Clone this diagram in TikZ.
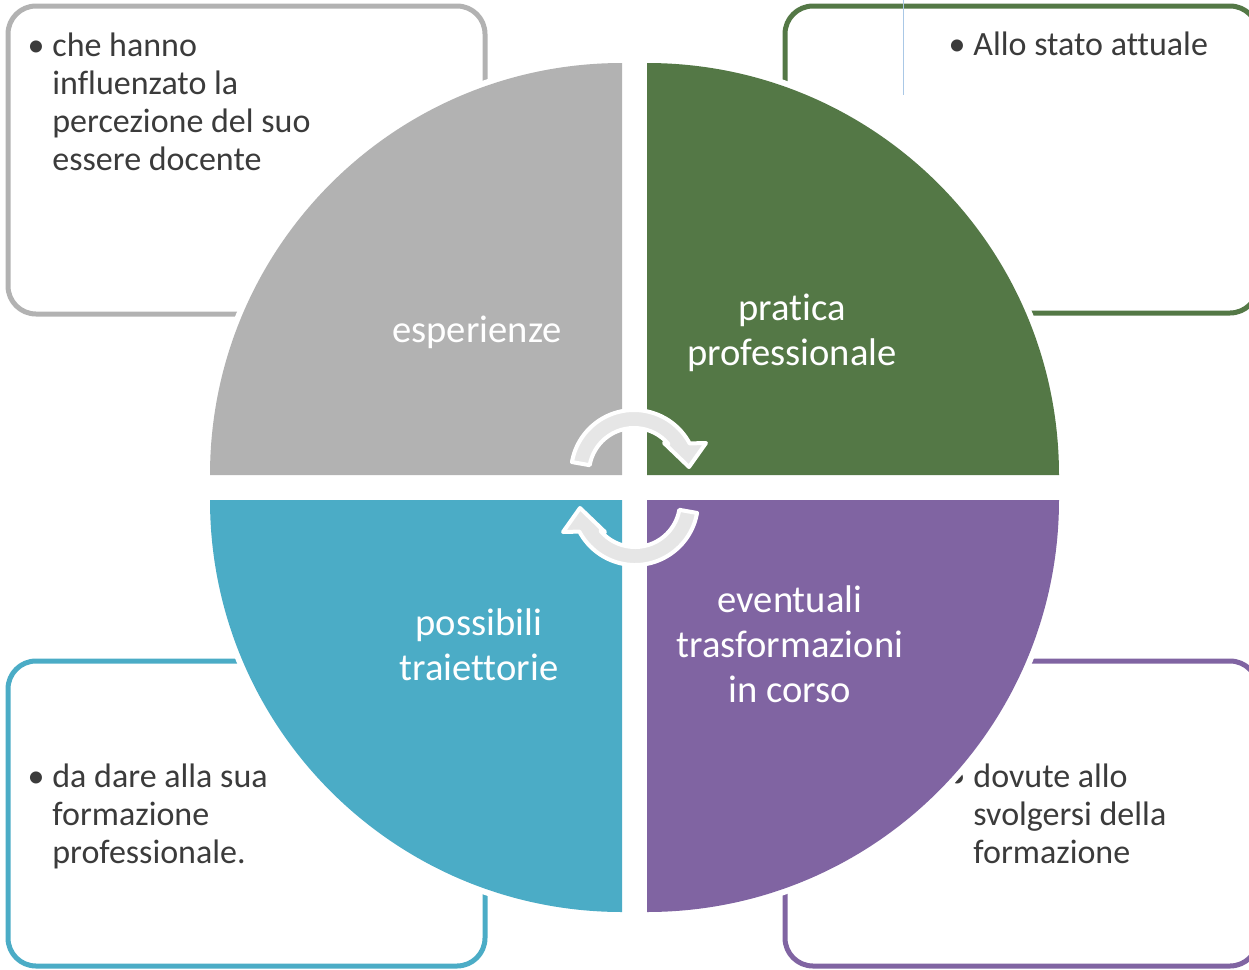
\documentclass[tikz,border=0pt]{standalone}
\usepackage{fontspec}
\setmainfont{Carlito}[Ligatures=NoCommon]
\usepackage{tikz}

\definecolor{qgray}{RGB}{178,178,178}
\definecolor{qgreen}{RGB}{84,120,70}
\definecolor{qpurple}{RGB}{128,100,162}
\definecolor{qblue}{RGB}{75,172,198}
\definecolor{txtgray}{RGB}{59,59,59}
\definecolor{arrowfill}{RGB}{230,230,230}
\definecolor{cursorblue}{RGB}{170,200,230}

\tikzset{
  sidebox/.style={line width=2.5pt, rounded corners=14pt},
  boxtext/.style={font=\fontsize{17}{19}\selectfont, text=txtgray, align=left, anchor=base west, inner sep=0pt},
  bulletmark/.style={font=\fontsize{17}{19}\selectfont, text=txtgray, anchor=base, inner sep=0pt},
  qlabel/.style={font=\fontsize{19.3}{22.5}\selectfont, text=white, align=center, anchor=base, inner sep=0pt},
  cyclearrow/.style={fill=arrowfill, draw=white, line width=2pt, line join=round}
}

\begin{document}
\begin{tikzpicture}[x=0.5pt, y=0.5pt]
			\useasboundingbox (0,0) rectangle (1249,-970);
			% boxes round the circle
			\draw[sidebox, draw=qgray] (8,-6) rectangle (485,-314);
			\draw[sidebox, draw=qgreen] (785,-6) rectangle (1258,-313);
			\draw[sidebox, draw=qblue] (8,-661) rectangle (485,-966);
			\draw[sidebox, draw=qpurple] (785,-661) rectangle (1258,-966);
			\draw[cursorblue, line width=0.4pt] (903,0) -- (903,-95);
			% box texts (node base = last line)
			\node[bulletmark] (b1) at (36,-56) {\textbullet};
			\node[boxtext] (t1) at (52,-170) {che hanno\\influenzato la\\percezione del suo\\essere docente};
			\node[bulletmark] (b2) at (957,-55) {\textbullet};
			\node[boxtext] (t2) at (973,-55) {Allo stato attuale};
			\node[bulletmark] (b3) at (36,-787) {\textbullet};
			\node[boxtext] (t3) at (52,-863) {da dare alla sua\\formazione\\professionale.};
			\node[bulletmark] (b4) at (957,-787) {\textbullet};
			\node[boxtext] (t4) at (973,-863) {dovute allo\\svolgersi della\\formazione};
			% the four quarters
			\foreach \a/\cx/\cy/\col in {90/622/-475/qgray, 0/647/-475/qgreen, 270/647/-500/qpurple, 180/622/-500/qblue}{
				\fill[white] (\cx,\cy) -- ++(\a:418) arc[start angle=\a, delta angle=90, radius=418] -- cycle;
				\fill[\col] (\cx,\cy) -- ++(\a:412) arc[start angle=\a, delta angle=90, radius=412] -- cycle;
			}
			\node[qlabel] (esp) at (477,-342) {esperienze};
			\node[qlabel] (prat) at (792,-365) {pratica\\professionale};
			\node[qlabel] (evt) at (790,-702) {eventuali\\trasformazioni\\in corso};
			\node[qlabel] (poss) at (479,-680) {possibili\\traiettorie};
			% circular arrows
			\foreach \r in {0,180}{
				\filldraw[cyclearrow, rotate around={\r:(634.5,-487.5)}]
				([shift={(170:63)}]634,-473) arc[start angle=170, end angle=28, radius=63]
				-- (706,-443) -- (689,-467) -- (664,-443)
				-- ([shift={(40:45)}]634,-473) arc[start angle=40, end angle=170, radius=45] -- cycle;
			}
\end{tikzpicture}
\end{document}
